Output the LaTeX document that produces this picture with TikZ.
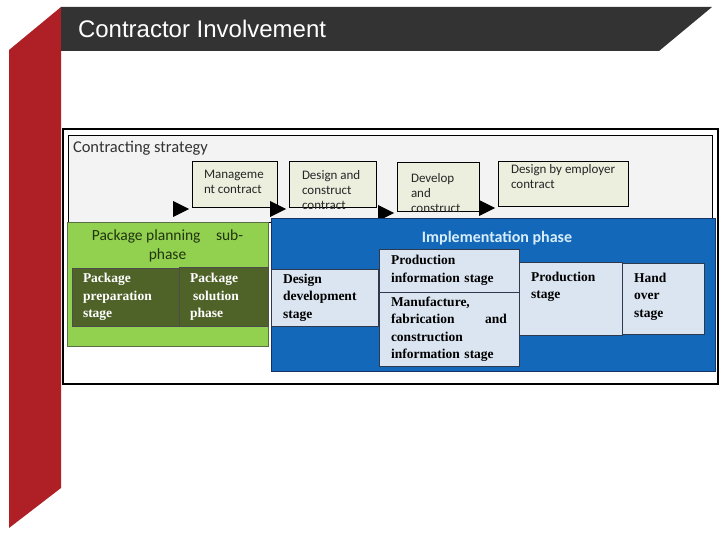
\documentclass[tikz,border=0pt]{standalone}
\usepackage{fontspec}
\setmainfont{Liberation Serif}
\setsansfont{Carlito}
\newfontfamily\headfont{Liberation Sans}
\usetikzlibrary{positioning,calc}

\definecolor{ribbonred}{RGB}{174,32,37}
\definecolor{titlebar}{RGB}{51,51,51}
\definecolor{panelgray}{RGB}{243,243,243}
\definecolor{contractfill}{RGB}{236,238,222}
\definecolor{planfill}{RGB}{146,208,80}
\definecolor{planline}{RGB}{90,110,70}
\definecolor{planink}{RGB}{32,52,16}
\definecolor{stagedark}{RGB}{79,98,40}
\definecolor{implfill}{RGB}{19,104,186}
\definecolor{implline}{RGB}{20,50,100}
\definecolor{implink}{RGB}{215,238,250}
\definecolor{stagefill}{RGB}{219,229,241}
\definecolor{stageline}{RGB}{45,58,78}

\begin{document}
\begin{tikzpicture}[
  x=1pt, y=-1pt,
  every node/.style={outer sep=0pt},
  contract/.style={draw, fill=contractfill, anchor=north west},
  ctext/.style={anchor=north west, inner sep=0pt, align=left,
    font=\sffamily\fontsize{13}{15}\selectfont, text=black!85},
  olivebox/.style={draw=black!70, fill=stagedark, anchor=north west,
    inner xsep=11pt, align=left, text=white,
    font=\bfseries\fontsize{13.5}{17.5}\selectfont},
  stagebox/.style={draw=stageline, fill=stagefill, anchor=north west,
    inner xsep=12pt, align=left,
    font=\bfseries\fontsize{13.5}{17.5}\selectfont},
  stext/.style={anchor=north west, inner sep=0pt, align=left,
    font=\bfseries\fontsize{13.5}{17.5}\selectfont}
]
  \useasboundingbox (0,0) rectangle (720,540);

  % slide ribbon and title bar
  \fill[ribbonred] (9,50) -- (61,7) -- (61,488) -- (9,528) -- cycle;
  \fill[titlebar] (61,7) -- (712,7) -- (659,51) -- (61,51) -- cycle;
  \node[anchor=base west, inner sep=0pt, text=white,
    font=\headfont\fontsize{24}{28}\selectfont] (title) at (78,38) {Contractor Involvement};

  % frame and contracting strategy panel
  \node[draw, line width=2.5pt, fill=white, anchor=north west,
    minimum width=655pt, minimum height=255pt] (frame) at (63,129) {};
  \node[draw, line width=0.6pt, fill=panelgray, anchor=north west,
    minimum width=644pt, minimum height=87pt] (panel) at (68,135) {};
  \node[anchor=base west, inner sep=0pt, text=black!80,
    font=\sffamily\fontsize{16.5}{18}\selectfont] (strat) at (73,153) {Contracting strategy};

  % contracts
  \node[contract, minimum width=85pt, minimum height=46pt] (mgmt) at (192,161) {};
  \node[contract, minimum width=87pt, minimum height=46pt] (dandc) at (289,161) {};
  \node[contract, minimum width=82pt, minimum height=49pt] (devc) at (397,162) {};
  \node[contract, minimum width=130pt, minimum height=45pt] (dbe) at (498,161) {};
  \node[ctext] (mgmt-t) at ([shift={(12,9)}]mgmt.north west) {Manageme\\nt contract};
  \node[ctext] (dandc-t) at ([shift={(13,9)}]dandc.north west) {Design and\\construct\\contract};
  \node[ctext] (devc-t) at ([shift={(14,11)}]devc.north west) {Develop\\and\\construct};
  \node[ctext] (dbe-t) at ([shift={(13,3)}]dbe.north west) {Design by employer\\contract};

  \foreach \c in {mgmt,dandc,devc,dbe}
    \fill ($(\c.south west)+(-3,2)$) -- ++(-16,-8) -- ++(0,16) -- cycle;

  % package planning sub-phase
  \node[draw=planline, fill=planfill, anchor=north west,
    minimum width=201pt, minimum height=124pt] (plan) at (67,222) {};
  \node[anchor=north, inner sep=0pt, align=center, text=planink,
    font=\sffamily\fontsize{15.5}{19}\selectfont] (plan-t)
    at ([shift={(0,8)}]plan.north) {Package planning\quad sub-\\phase};
  \node[olivebox, minimum width=107pt, minimum height=58pt, text width=85pt]
    (prep) at (72,268) {Package\\preparation\\stage};
  \node[olivebox, minimum width=89pt, minimum height=59pt, text width=67pt,
    right=0pt of prep] (sol) {Package\\\hspace*{3pt}solution\\phase};

  % implementation phase
  \node[draw=implline, fill=implfill, anchor=north west,
    minimum width=444pt, minimum height=153pt] (impl) at (271,218) {};
  \node[anchor=north, inner sep=0pt, text=implink,
    font=\sffamily\bfseries\fontsize{16}{18}\selectfont] (impl-t)
    at ([shift={(4,13)}]impl.north) {Implementation phase};

  \node[stagebox, minimum width=107pt, minimum height=57pt, text width=83pt]
    (ddev) at (271,269) {Design\\development\\stage};
  \node[stagebox, minimum width=140pt, minimum height=43pt, text width=116pt]
    (pinfo) at (379,249) {Production\\information stage};
  \node[stagebox, minimum width=140pt, minimum height=74pt, text width=116pt,
    below=0pt of pinfo] (mfci) {Manufacture,\\fabrication\hfill and\\construction\\information stage};
  \node[stagebox, minimum width=103pt, minimum height=73pt] (prod) at (519,262) {};
  \node[stagebox, minimum width=82pt, minimum height=71pt, right=0pt of prod] (hand) {};
  \node[stext] (prod-t) at ([shift={(12,10)}]prod.north west) {Production\\stage};
  \node[stext] (hand-t) at ([shift={(12,10)}]hand.north west) {Hand\\over\\stage};
\end{tikzpicture}
\end{document}
